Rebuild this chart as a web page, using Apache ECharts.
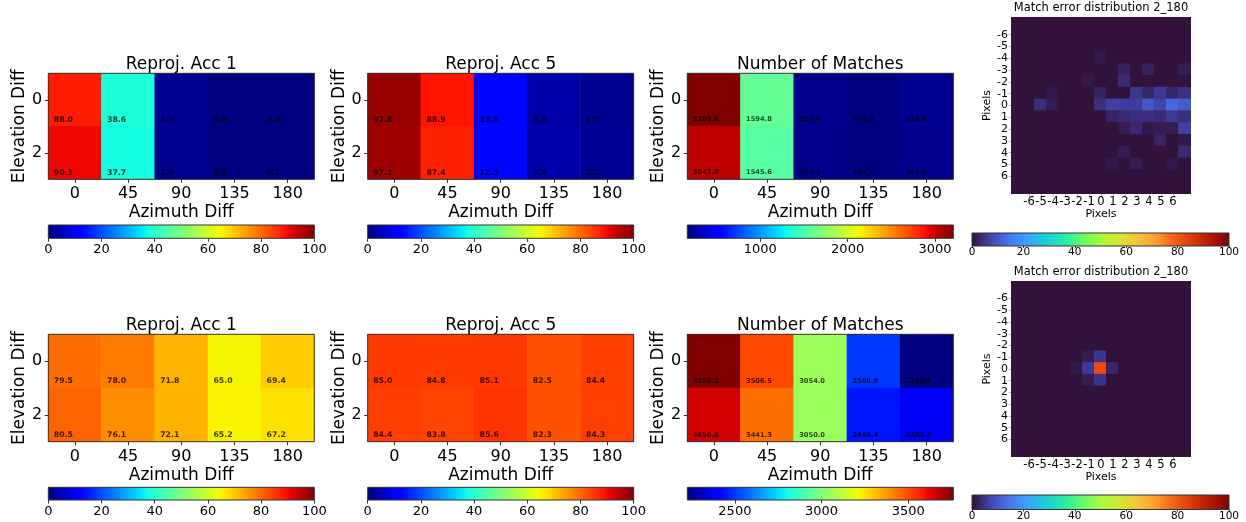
<!DOCTYPE html>
<html><head><meta charset="utf-8">
<script src="https://cdn.jsdelivr.net/npm/echarts@6/dist/echarts.min.js"></script>
<style>html,body{margin:0;padding:0;background:#fff}#c{width:1246px;height:522px}</style>
</head><body><div id="c"></div><script>
// ---------------- data ----------------
const azimuthCats = ['0', '45', '90', '135', '180'];
const elevationCats = ['0', '2'];

const acc1Top = [[88.0, 38.6, 1.7, 0.2, 0.0], [90.3, 37.7, 1.5, 0.3, 0.1]];
const acc5Top = [[97.8, 88.9, 12.6, 3.6, 1.7], [97.2, 87.4, 12.9, 3.8, 2.1]];
const matchesTop = [[3209.6, 1594.8, 195.6, 170.0, 210.9], [3043.0, 1545.6, 193.3, 164.7, 201.0]];
const acc1Bottom = [[79.5, 78.0, 71.8, 65.0, 69.4], [80.5, 76.1, 72.1, 65.2, 67.2]];
const acc5Bottom = [[85.0, 84.8, 85.1, 82.5, 84.4], [84.4, 83.8, 85.6, 82.3, 84.3]];
const matchesBottom = [[3759.8, 3506.5, 3054.0, 2500.9, 2225.6], [3650.8, 3441.3, 3050.0, 2446.4, 2382.3]];

const cbTicksPct = [0, 20, 40, 60, 80, 100];
const cbTicksMatchesTop = [1000, 2000, 3000];
const cbTicksMatchesBottom = [2500, 3000, 3500];

const pixelCats = ['-7', '-6', '-5', '-4', '-3', '-2', '-1', '0', '1', '2', '3', '4', '5', '6', '7'];
const pixelTickShown = ['-6', '-5', '-4', '-3', '-2', '-1', '0', '1', '2', '3', '4', '5', '6'];

// rows: y = -7..7 (top to bottom), columns: x = -7..7
const distTop = [
  [0,0,0,0,0,0,0,0,0,0,0,0,0,0,0],
  [0,0,0,0,0,0,0,0,0,0,0,0,0,0,0],
  [0,0,0,0,0,0,0,0,0,0,0,0,0,0,0],
  [0,0,0,0,0,0,0,1.0,0,0,0,0,0,0,0],
  [0,0,0,0,0,0,0,0,0,2.0,0,2.0,0,0,1.5],
  [0,0,0,0,0,0,1.0,0,0,3.5,0,0,0,0,0],
  [0,0,0,1.0,0,0,0,2.5,0,0,5.0,3.0,5.5,3.0,4.5],
  [0,0,4.0,1.5,0,0,0,4.0,6.5,6.0,6.0,10.0,7.0,12.5,10.5],
  [0,0,0,0,0,0,0,0,2.5,3.5,4.0,4.0,3.5,5.5,4.0],
  [0,0,0,0,0,0,0,0,0,1.5,3.5,1.0,1.5,1.5,6.5],
  [0,0,0,0,0,0,0,0,0,0,0,0,2.5,0,1.0],
  [0,0,0,0,0,0,0,0,0,1.5,0,0,0,0,3.5],
  [0,0,0,0,0,0,0,0,1.0,0,1.5,0,0,1.0,0],
  [0,0,0,0,0,0,0,0,0,0,0,0,0,0,0],
  [0,0,0,0,0,0,0,0,0,0,0,0,0,0,0]
];
const distBottom = [
  [0,0,0,0,0,0,0,0,0,0,0,0,0,0,0],
  [0,0,0,0,0,0,0,0,0,0,0,0,0,0,0],
  [0,0,0,0,0,0,0,0,0,0,0,0,0,0,0],
  [0,0,0,0,0,0,0,0,0,0,0,0,0,0,0],
  [0,0,0,0,0,0,0,0,0,0,0,0,0,0,0],
  [0,0,0,0,0,0,0,0,0,0,0,0,0,0,0],
  [0,0,0,0,0,0,1.5,5.0,0,0,0,0,0,0,0],
  [0,0,0,0,0,1.0,5.5,82.0,3.0,0,0,0,0,0,0],
  [0,0,0,0,0,0,1.5,4.5,0,0,0,0,0,0,0],
  [0,0,0,0,0,0,0,0,0,0,0,0,0,0,0],
  [0,0,0,0,0,0,0,0,0,0,0,0,0,0,0],
  [0,0,0,0,0,0,0,0,0,0,0,0,0,0,0],
  [0,0,0,0,0,0,0,0,0,0,0,0,0,0,0],
  [0,0,0,0,0,0,0,0,0,0,0,0,0,0,0],
  [0,0,0,0,0,0,0,0,0,0,0,0,0,0,0]
];

// ---------------- colormaps (style) ----------------
function interp(segs, t) {
  for (let i = 1; i < segs.length; i++) {
    if (t <= segs[i][0]) {
      const a = segs[i - 1], b = segs[i];
      return a[1] + (b[1] - a[1]) * (t - a[0]) / (b[0] - a[0]);
    }
  }
  return segs[segs.length - 1][1];
}
const JR = [[0,0],[0.35,0],[0.66,1],[0.89,1],[1,0.5]];
const JG = [[0,0],[0.125,0],[0.375,1],[0.64,1],[0.91,0],[1,0]];
const JB = [[0,0.5],[0.11,1],[0.34,1],[0.65,0],[1,0]];
function jet(t) { return 'rgb(' + [JR, JG, JB].map(s => Math.round(255 * interp(s, t))).join(',') + ')'; }
const jetColors = [];
for (let i = 0; i <= 100; i++) jetColors.push(jet(i / 100));
const turboColors = ['#30123b','#4145ab','#4675ed','#39a2fc','#1bcfd4','#24eca6','#61fc6c','#a4fc3b','#d1e834','#f3c63a','#fe9b2d','#f36315','#d93806','#b11901','#7a0403'];
function stops(cols) { return cols.map((c, i) => ({ offset: i / (cols.length - 1), color: c })); }

// ---------------- layout ----------------
const FONT = 'DejaVu Sans';
const L = {
  colLeft: [48.3, 367.7, 687.3], panelW: 266,
  rowTop: [73.3, 334.3], panelH: [106, 107.4],
  cbTop: [225, 487.3], cbH: [13.3, 12.7],
  titleY: [64.5, 325.5],
  distLeft: 1011, distW: 180, distTop: [17, 281], distH: [177, 176],
  distCbLeft: 972, distCbW: 257, distCbTop: [233, 495], distCbH: [13, 14.5], distTitleY: [8.5, 272]
};

const grid = [], xAxis = [], yAxis = [], series = [], visualMap = [], title = [];
const noSplit = { splitLine: { show: false }, splitArea: { show: false } };

function addGrid(left, top, w, h, border, bg) {
  grid.push({
    left: left, top: top, width: w, height: h, containLabel: false, outerBoundsMode: 'none',
    show: !!(border || bg), borderColor: border || 'transparent', borderWidth: border ? 1 : 0,
    backgroundColor: bg || 'transparent', z: bg ? 0 : 5
  });
  return grid.length - 1;
}
function addTitle(text, cx, cy, size) {
  title.push({
    text: text, left: cx, top: cy, textAlign: 'center', textVerticalAlign: 'middle', padding: 0,
    textStyle: { fontSize: size, fontWeight: 'normal', color: '#000', fontFamily: FONT }
  });
}
function addColorbar(left, top, w, h, min, max, cols, ticks, fontSize, margin, tickLen) {
  const gi = addGrid(left, top, w, h, '#333');
  xAxis.push(Object.assign({
    gridIndex: gi, type: 'value', min: min, max: max,
    axisLine: { show: false },
    axisTick: { show: true, length: tickLen, customValues: ticks, lineStyle: { color: '#333' } },
    axisLabel: { customValues: ticks, formatter: v => String(v), fontSize: fontSize, color: '#000', margin: margin, fontFamily: FONT, showMinLabel: true, showMaxLabel: true, hideOverlap: false }
  }, noSplit));
  yAxis.push(Object.assign({ gridIndex: gi, type: 'value', min: 0, max: 1, show: false }, noSplit));
  const st = stops(cols);
  series.push({
    type: 'custom', xAxisIndex: xAxis.length - 1, yAxisIndex: yAxis.length - 1, silent: true,
    data: [[min, 0, max]],
    renderItem: function (params, api) {
      const x0 = api.coord([api.value(0), 0])[0];
      const x1 = api.coord([api.value(2), 0])[0];
      const cs = params.coordSys;
      return { type: 'rect', shape: { x: x0, y: cs.y, width: x1 - x0, height: cs.height },
        style: { fill: new echarts.graphic.LinearGradient(0, 0, 1, 0, st) } };
    }
  });
}
function flat(m) { return [].concat.apply([], m); }

// cell renderer: one filled rectangle per data item, sized by the category bands
// (slightly enlarged so neighbouring cells overlap and leave no seams; clipped to the grid)
function cellRenderer(params, api) {
  const p = api.coord([api.value(0), api.value(1)]);
  const s = api.size([1, 1]);
  return { type: 'rect', shape: { x: p[0] - s[0] / 2 - 1, y: p[1] - s[1] / 2 - 1, width: s[0] + 2, height: s[1] + 2 },
    style: { fill: api.visual('color'), stroke: null, lineWidth: 0 } };
}

function addJetPanel(name, rows, ticks, fixedRange, labelSize, col, row) {
  const vals = flat(rows);
  const min = fixedRange ? 0 : Math.min.apply(null, vals);
  const max = fixedRange ? 100 : Math.max.apply(null, vals);
  const left = L.colLeft[col], top = L.rowTop[row], w = L.panelW, h = L.panelH[row];
  const gi = addGrid(left, top, w, h, '#333');
  xAxis.push(Object.assign({
    gridIndex: gi, type: 'category', data: azimuthCats,
    name: 'Azimuth Diff', nameLocation: 'middle', nameGap: 25,
    nameTextStyle: { fontSize: 17, color: '#000', fontFamily: FONT },
    axisLine: { show: false },
    axisTick: { show: true, alignWithLabel: true, length: 3.5, lineStyle: { color: '#333' } },
    axisLabel: { fontSize: 16, color: '#000', margin: 7, fontFamily: FONT, interval: 0 }
  }, noSplit));
  yAxis.push(Object.assign({
    gridIndex: gi, type: 'category', data: elevationCats, inverse: true,
    name: 'Elevation Diff', nameLocation: 'middle', nameGap: 20,
    nameTextStyle: { fontSize: 17, color: '#000', fontFamily: FONT },
    axisLine: { show: false },
    axisTick: { show: true, alignWithLabel: true, length: 3.5, lineStyle: { color: '#333' } },
    axisLabel: { fontSize: 16, color: '#000', margin: 6, fontFamily: FONT, interval: 0 }
  }, noSplit));
  const data = [];
  rows.forEach((r, i) => r.forEach((v, j) => data.push([j, i, v])));
  series.push({
    type: 'heatmap', xAxisIndex: xAxis.length - 1, yAxisIndex: yAxis.length - 1, data: data,
    emphasis: { disabled: true }, progressive: 0,
    itemStyle: { borderWidth: 0, borderColor: 'transparent' },
    label: {
      show: true, position: ['10.7%', '87%'], align: 'left', verticalAlign: 'middle',
      formatter: p => p.value[2].toFixed(1),
      fontSize: labelSize, fontWeight: 'bold', color: 'rgba(0,0,0,0.75)', fontFamily: FONT
    }
  });
  visualMap.push({ type: 'continuous', show: false, seriesIndex: series.length - 1, dimension: 2,
    min: min, max: max, inRange: { color: jetColors } });
  addTitle(name, left + w / 2, L.titleY[row], 17);
  addColorbar(left, L.cbTop[row], w, L.cbH[row], min, max, jetColors, ticks, 13, 5, 3.5);
}

function addDistPanel(matrix, row) {
  const left = L.distLeft, top = L.distTop[row], w = L.distW, h = L.distH[row];
  const gi = addGrid(left, top, w, h, null, turboColors[0]);
  const shown = (i) => pixelTickShown.indexOf(pixelCats[i]) >= 0;
  const axisCommon = Object.assign({
    gridIndex: gi, type: 'category', data: pixelCats,
    name: 'Pixels', nameLocation: 'middle',
    nameTextStyle: { fontSize: 11, color: '#000', fontFamily: FONT },
    axisLine: { show: false },
    axisTick: { show: true, alignWithLabel: true, length: 2.5, interval: shown, lineStyle: { color: '#bbb' } }
  }, noSplit);
  xAxis.push(Object.assign({}, axisCommon, { nameGap: 15,
    axisLabel: { fontSize: 11.5, color: '#000', margin: 2, fontFamily: FONT, interval: shown,
      showMinLabel: true, showMaxLabel: true, hideOverlap: false } }));
  yAxis.push(Object.assign({}, axisCommon, { inverse: true, nameGap: 16,
    axisLabel: { fontSize: 11, color: '#000', margin: 3, fontFamily: FONT, interval: shown,
      showMinLabel: true, showMaxLabel: true, hideOverlap: false, lineHeight: 10 } }));
  const data = [];
  matrix.forEach((r, i) => r.forEach((v, j) => data.push([j, i, v])));
  series.push({ type: 'custom', xAxisIndex: xAxis.length - 1, yAxisIndex: yAxis.length - 1, data: data,
    silent: true, clip: true, renderItem: cellRenderer, encode: { x: 0, y: 1 } });
  visualMap.push({ type: 'continuous', show: false, seriesIndex: series.length - 1, dimension: 2,
    min: 0, max: 100, inRange: { color: turboColors } });
  addTitle('Match error distribution 2_180', left + w / 2, L.distTitleY[row], 11.5);
  addColorbar(L.distCbLeft, L.distCbTop[row], L.distCbW, L.distCbH[row], 0, 100, turboColors, cbTicksPct, 10.5, 1, 2);
}

addJetPanel('Reproj. Acc 1', acc1Top, cbTicksPct, true, 7.8, 0, 0);
addJetPanel('Reproj. Acc 5', acc5Top, cbTicksPct, true, 7.8, 1, 0);
addJetPanel('Number of Matches', matchesTop, cbTicksMatchesTop, false, 6.7, 2, 0);
addDistPanel(distTop, 0);
addJetPanel('Reproj. Acc 1', acc1Bottom, cbTicksPct, true, 7.8, 0, 1);
addJetPanel('Reproj. Acc 5', acc5Bottom, cbTicksPct, true, 7.8, 1, 1);
addJetPanel('Number of Matches', matchesBottom, cbTicksMatchesBottom, false, 6.7, 2, 1);
addDistPanel(distBottom, 1);

const chart = echarts.init(document.getElementById('c'), null, { renderer: 'canvas' });
chart.setOption({
  animation: false, backgroundColor: '#fff',
  textStyle: { fontFamily: FONT },
  title: title, grid: grid, xAxis: xAxis, yAxis: yAxis, visualMap: visualMap, series: series,
  tooltip: { show: false }
});
</script></body></html>
